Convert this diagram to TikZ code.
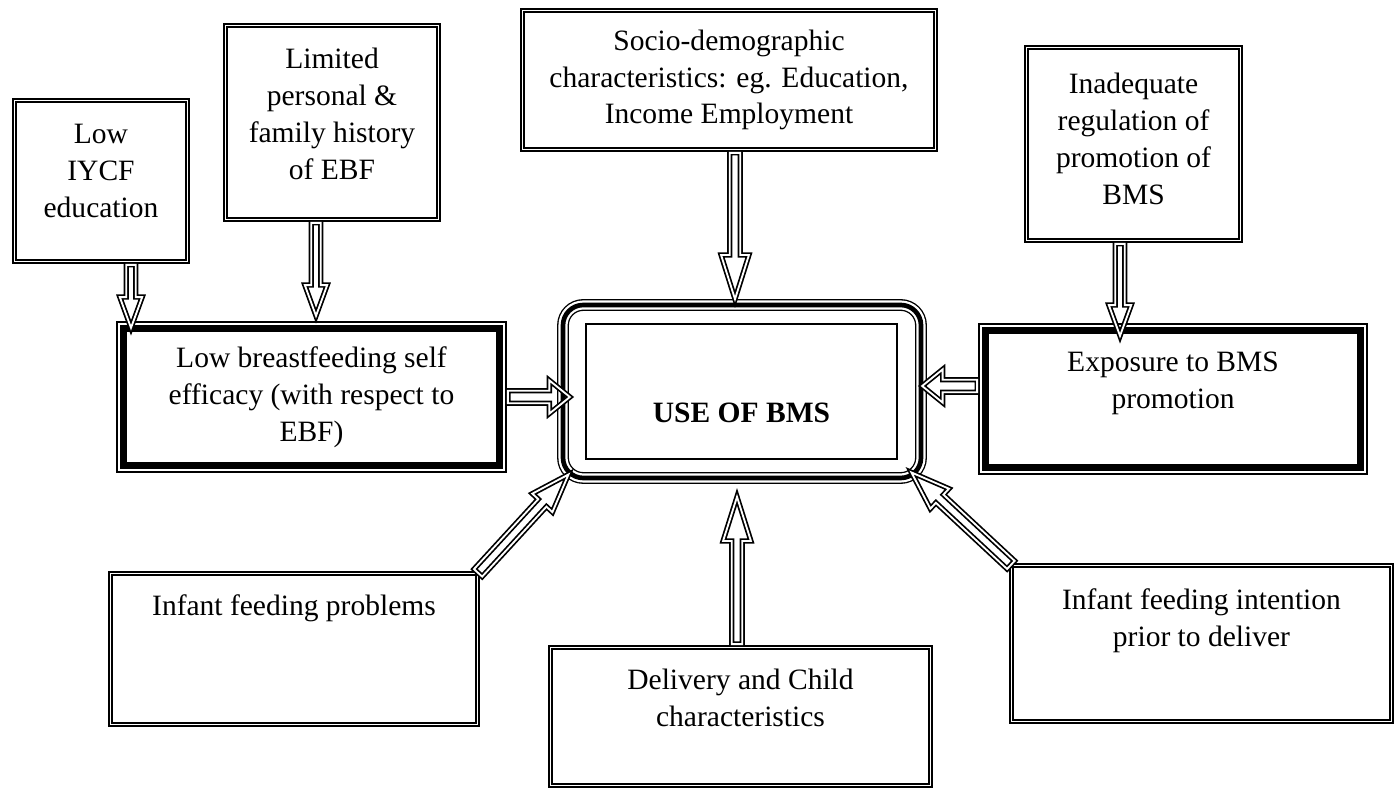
\documentclass[tikz,border=0pt]{standalone}
\usepackage{fontspec}
\setmainfont{Liberation Serif}
\usetikzlibrary{shapes.arrows,calc}
\newcommand{\pxu}{0.142857mm}
\tikzset{
  txt/.style={align=center, font=\fontsize{12}{15}\selectfont, inner sep=0pt, outer sep=0pt},
  boxsize/.style 2 args={minimum width=#1*\pxu, minimum height=#2*\pxu},
  dbox/.style={txt, draw, line width=0.75pt, double, double distance=0.65pt},
  thickbox/.style={txt, draw, line width=3.2pt, fill=white,
    preaction={draw, line width=6pt}, preaction={draw=white, line width=4.8pt}},
  usebox/.style={draw, outer sep=0pt, rounded corners=2.9mm, line width=1.9pt,
    preaction={draw, line width=4.8pt}, preaction={draw=white, line width=3.7pt}},
  arrowshape/.style={single arrow, draw, line width=0.7pt, double, double distance=0.75pt,
    inner sep=1.6pt, single arrow head extend=2.6pt, single arrow tip angle=40},
  bigtip/.style={inner sep=1.8pt, single arrow head extend=3.5pt, single arrow tip angle=35},
  widetip/.style={inner sep=2.2pt, single arrow head extend=4.2pt, single arrow tip angle=78},
  slanttip/.style={inner sep=1.9pt, single arrow head extend=3.3pt, single arrow tip angle=39},
  bmsarrow/.style={to path={let \p1=(\tikztostart), \p2=(\tikztotarget),
    \n1={atan2(\y2-\y1,\x2-\x1)}, \n2={veclen(\x2-\x1,\y2-\y1)} in
    node[arrowshape, #1, minimum height=\n2, rotate=\n1, anchor=tail] at (\tikztostart) {}}},
  bmsarrow/.default={}
}
\begin{document}
\begin{tikzpicture}[x=0.142857mm, y=-0.142857mm]
  \useasboundingbox (0,0) rectangle (1400,790);
  \node[dbox, boxsize={173}{161}] (iyc) at (101,181) {Low\\IYCF\\education\\[-7pt]~};
  \node[dbox, boxsize={213}{194}] (hist) at (332,122.5) {Limited\\personal \&\\family history\\of EBF\\[-8pt]~};
  \node[dbox, boxsize={413}{139}] (socio) at (729,80) {Socio-demographic\\characteristics: eg. Education,\\Income Employment};
  \node[dbox, boxsize={214}{193}] (inadeq) at (1133.5,144) {Inadequate\\regulation of\\promotion of\\BMS\\[-11pt]~};
  \node[thickbox, boxsize={376}{137}] (lbse) at (311.5,397) {Low breastfeeding self\\efficacy (with respect to\\EBF)};
  \node[thickbox, boxsize={375}{137}] (expo) at (1173,399) {Exposure to BMS\\promotion\\~};
  \node[usebox, boxsize={358}{173}] (use) at (742,391.5) {};
  \node[txt, draw, line width=0.5pt, boxsize={311}{135}, font=\fontsize{12}{15}\selectfont\bfseries] (usein) at (741.5,391.5) {~\\[10pt]USE OF BMS};
  \node[dbox, boxsize={367}{151}] (ifp) at (294,649) {Infant feeding problems\\[6pt]~\\~};
  \node[dbox, boxsize={380}{138}] (deliv) at (740.5,716.5) {Delivery and Child\\characteristics\\~};
  \node[dbox, boxsize={380}{156}] (intent) at (1201.5,643.5) {Infant feeding intention\\prior to deliver\\[6pt]~};

  \draw ($(iyc.south)+(30,2.5)$) to[bmsarrow] ($(lbse.north west)+(7.5,-1.5)$);
  \draw ($(hist.south)+(-16,2.5)$) to[bmsarrow] ($(lbse.north)+(4.5,-13.5)$);
  \draw ($(socio.south)+(6,2.5)$) to[bmsarrow=bigtip] ($(use.north)+(-7,-6.7)$);
  \draw ($(inadeq.south)+(-13.5,2.5)$) to[bmsarrow] ($(expo.north)+(-53,4.5)$);
  \draw ($(lbse.east)+(7.5,0)$) to[bmsarrow=widetip] ($(use.west)+(6,5.5)$);
  \draw ($(expo.west)+(-7.5,-13)$) to[bmsarrow=widetip] ($(use.east)+(2,-5.5)$);
  \draw (ifp.north east) to[bmsarrow=slanttip] ($(use.south west)+(5,-3)$);
  \draw ($(deliv.north)+(-3.5,-2.5)$) to[bmsarrow=bigtip] ($(use.south)+(-5,19.7)$);
  \draw (intent.north west) to[bmsarrow=slanttip] ($(use.south east)+(-9,-5)$);
\end{tikzpicture}
\end{document}
